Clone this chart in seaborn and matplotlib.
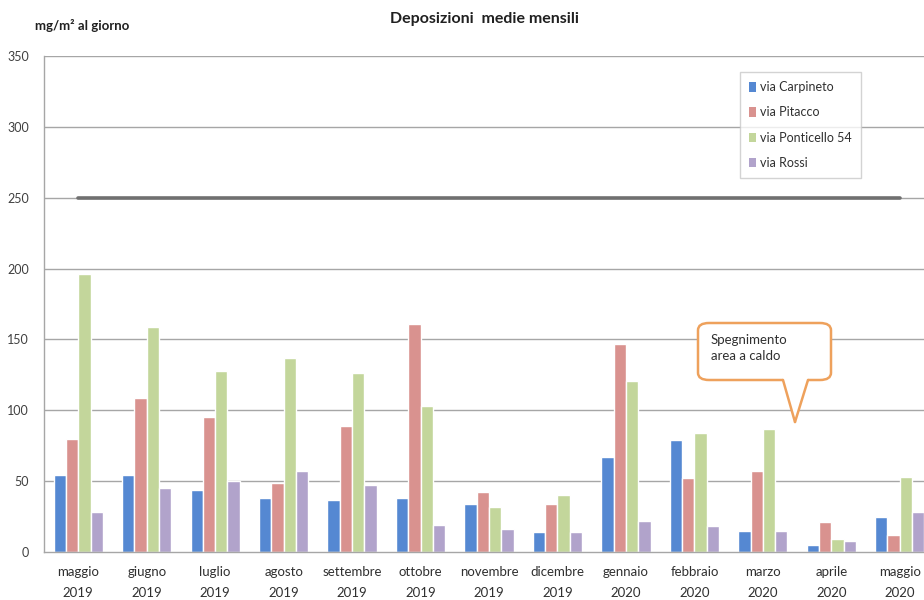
import numpy as np
import pandas as pd
import matplotlib
matplotlib.use("Agg")
import matplotlib.pyplot as plt
from matplotlib.patches import FancyBboxPatch, Polygon, Patch
from matplotlib.lines import Line2D
import seaborn as sns

# Monthly mean deposition per site (mg/m2 per day)
mesi = ["maggio", "giugno", "luglio", "agosto", "settembre", "ottobre", "novembre",
        "dicembre", "gennaio", "febbraio", "marzo", "aprile", "maggio"]
anni = ["2019"] * 8 + ["2020"] * 5
stazioni = ["via Carpineto", "via Pitacco", "via Ponticello 54", "via Rossi"]
carpineto = [54, 54, 44, 38, 37, 38, 34, 14, 67, 79, 15, 5, 25]
pitacco = [80, 109, 95, 49, 89, 161, 42, 34, 147, 52, 57, 21, 12]
ponticello = [196, 159, 128, 137, 126, 103, 32, 40, 121, 84, 87, 9, 53]
rossi = [28, 45, 50, 57, 47, 19, 16, 14, 22, 18, 15, 8, 28]
limite = [250] * 13
y_ticks = [0, 50, 100, 150, 200, 250, 300, 350]

colori = ["#5588d2", "#d9928f", "#c3d69b", "#b1a3cb"]

etichette = [f"{m}\n{a}" for m, a in zip(mesi, anni)]
serie = [carpineto, pitacco, ponticello, rossi]
df = pd.DataFrame({
    "periodo": np.tile(np.arange(len(mesi)), len(stazioni)),
    "stazione": np.repeat(stazioni, len(mesi)),
    "valore": np.concatenate(serie),
})

sns.set_theme(style="white")
plt.rcParams["font.family"] = ["Lato", "DejaVu Sans"]

W, H = 924, 600
AX_L, AX_B, AX_W, AX_H = 44, 48, 890, 496
fig = plt.figure(figsize=(W / 100, H / 100), dpi=100)
ax = fig.add_axes([AX_L / W, AX_B / H, AX_W / W, AX_H / H])

grid_c = "#a6a6a6"
for t in y_ticks[1:]:
    ax.axhline(t, color=grid_c, lw=1.0, zorder=0)

sns.barplot(data=df, x="periodo", y="valore", hue="stazione", palette=colori,
            width=0.72, saturation=1, legend=False, ax=ax, zorder=2,
            order=list(range(len(mesi))))

sns.lineplot(x=np.arange(len(mesi)), y=limite, color="#707070", lw=2.6,
             ax=ax, zorder=3)

ax.set_xlim(-0.5, len(mesi) - 0.5)
ax.set_ylim(0, 350)
ax.set_yticks(y_ticks)
ax.set_yticklabels([str(t) for t in y_ticks], fontsize=9, color="#404040")
ax.set_xticks(np.arange(len(mesi)))
ax.set_xticklabels(etichette, fontsize=9.5, color="#303030", linespacing=1.9,
                   va="top")
ax.set_xticks(np.arange(len(mesi) + 1) - 0.5, minor=True)
ax.tick_params(axis="x", which="major", length=0, pad=10)
ax.tick_params(axis="x", which="minor", length=40, width=1.0, color=grid_c,
               direction="out")
ax.tick_params(axis="y", which="major", length=5, width=1.0, color=grid_c,
               direction="out", pad=6)
ax.set_xlabel("")
ax.set_ylabel("")
for s in ["top", "right"]:
    ax.spines[s].set_visible(False)
for s in ["left", "bottom"]:
    ax.spines[s].set_color(grid_c)
    ax.spines[s].set_linewidth(1.0)

# Legend
handles = [Patch(facecolor=c, edgecolor="none") for c in colori]
leg = ax.legend(handles, stazioni, loc="upper left",
                bbox_to_anchor=((740 - AX_L) / AX_W, (H - AX_B - 72) / AX_H),
                bbox_transform=ax.transAxes, frameon=True, fancybox=False,
                fontsize=9, handlelength=0.55, handleheight=0.8,
                handletextpad=0.3, labelspacing=1.05, borderpad=0.75,
                borderaxespad=0)
leg.get_frame().set_edgecolor("#c8c8c8")
leg.get_frame().set_linewidth(1.0)
for t in leg.get_texts():
    t.set_color("#303030")

# Titles
fig.text(485 / W, 1 - 19 / H, "Deposizioni  medie mensili", ha="center",
         va="center", fontsize=11.5, fontweight="bold", color="#202020")
fig.text(35 / W, 1 - 26 / H, "mg/m² al giorno", ha="left", va="center",
         fontsize=9.5, fontweight="bold", color="#202020")

# Callout box
def fx(x):
    return x / W


def fy(y):
    return 1 - y / H


orange = "#eea15c"
box = FancyBboxPatch((fx(698), fy(380)), fx(831) - fx(698), fy(323) - fy(380),
                     boxstyle="round,pad=0,rounding_size=0.012",
                     transform=fig.transFigure, facecolor="white",
                     edgecolor=orange, lw=1.8, zorder=10)
fig.add_artist(box)
tail = Polygon([(fx(783), fy(378)), (fx(795), fy(422)), (fx(808), fy(378))],
               closed=True, transform=fig.transFigure, facecolor="white",
               edgecolor="none", zorder=11)
fig.add_artist(tail)
for (x0, y0) in [(783, 380), (808, 380)]:
    fig.add_artist(Line2D([fx(x0), fx(795)], [fy(y0), fy(422)],
                          transform=fig.transFigure, color=orange, lw=1.8,
                          zorder=12))
fig.text(fx(711), fy(348), "Spegnimento\narea a caldo", ha="left", va="center",
         fontsize=9.5, color="#303030", linespacing=1.3, zorder=13)

fig.savefig("out.png", dpi=100)
